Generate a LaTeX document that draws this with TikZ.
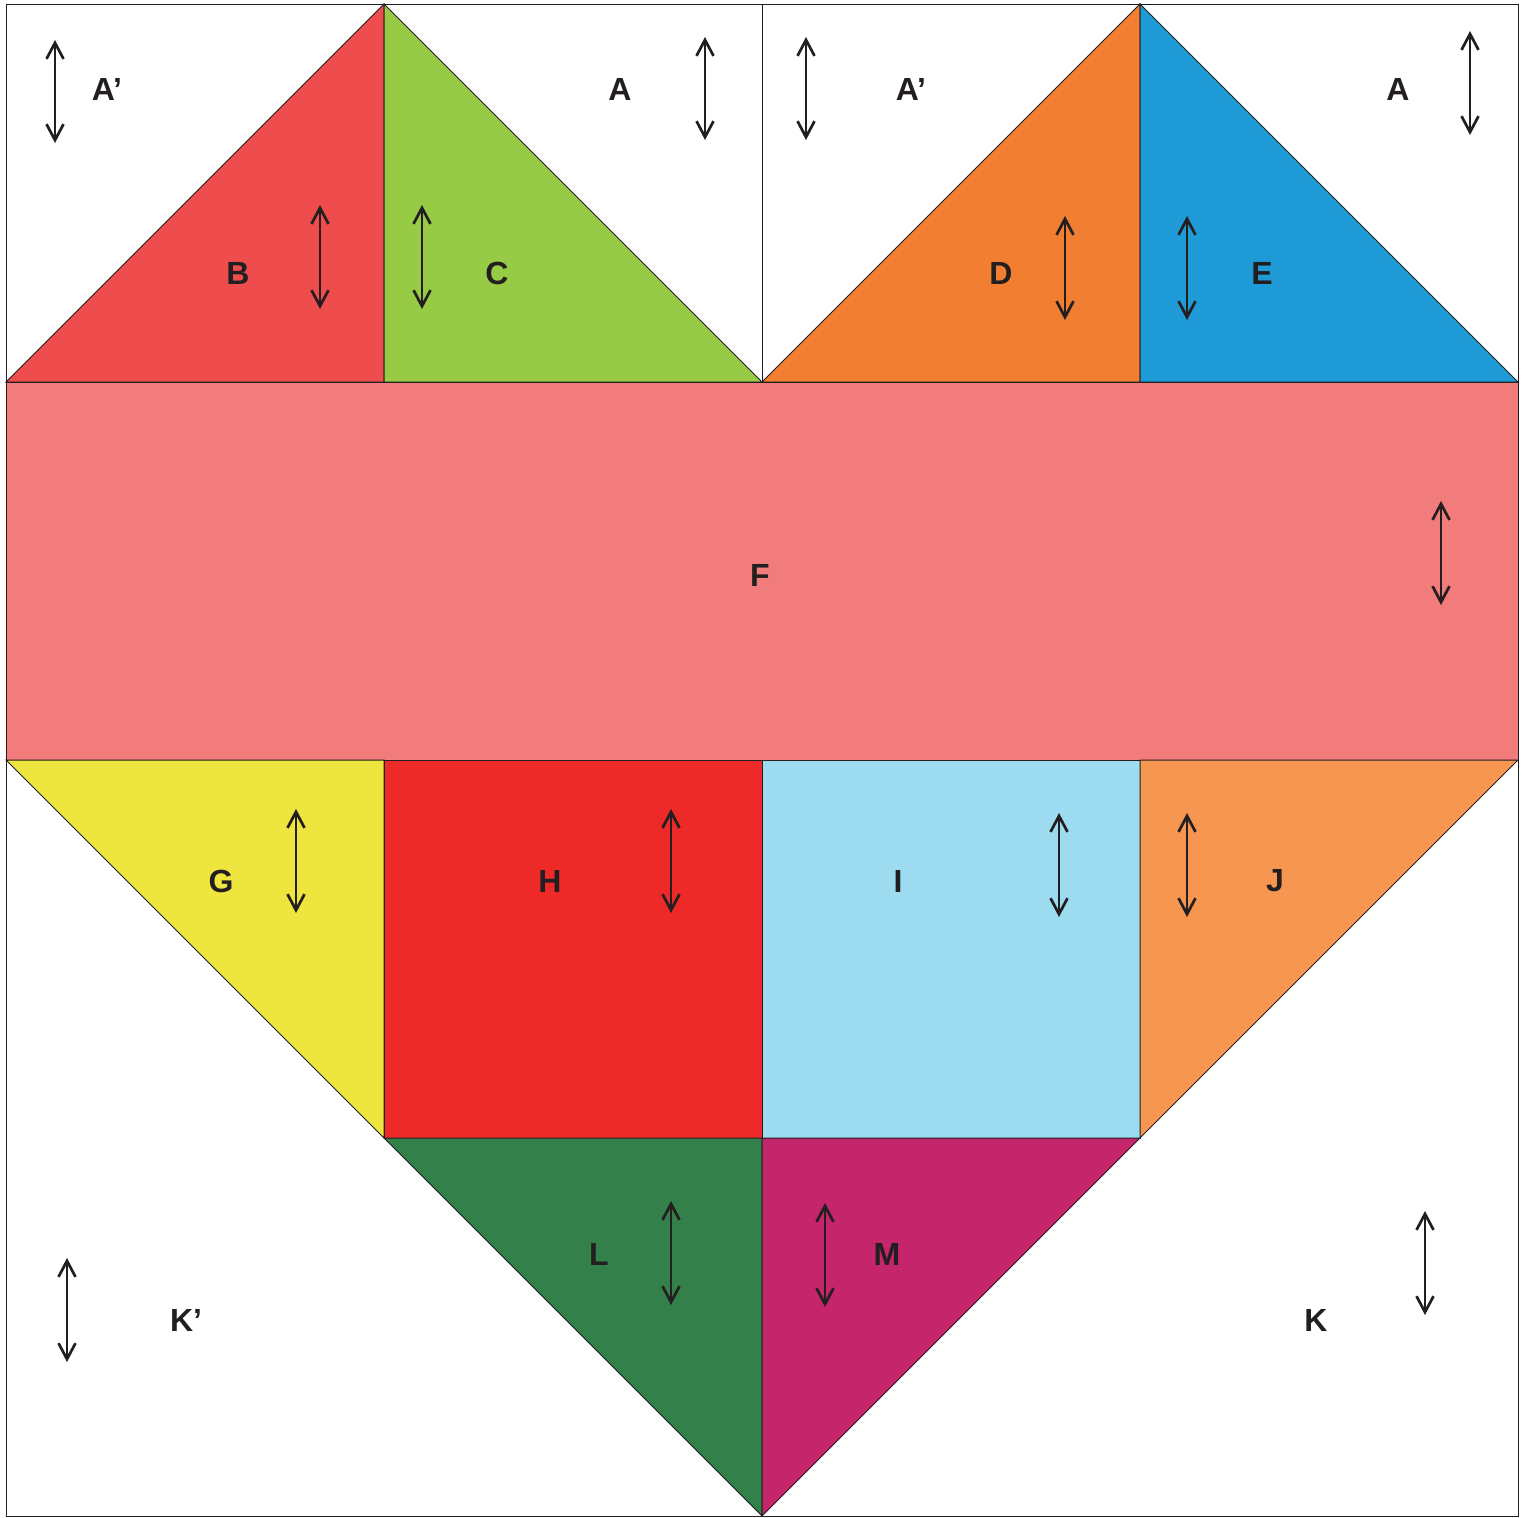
\documentclass[tikz,border=0pt]{standalone}
\usepackage{fontspec}
\setmainfont{Liberation Sans}
\usetikzlibrary{arrows.meta}
\definecolor{ink}{HTML}{231F20}
\definecolor{cB}{HTML}{EF4C4E}
\definecolor{cC}{HTML}{97CA45}
\definecolor{cD}{HTML}{F27E31}
\definecolor{cE}{HTML}{1E9AD6}
\definecolor{cF}{HTML}{F27B7C}
\definecolor{cG}{HTML}{EEE53F}
\definecolor{cH}{HTML}{EE2A28}
\definecolor{cI}{HTML}{9DDBF0}
\definecolor{cJ}{HTML}{F69651}
\definecolor{cL}{HTML}{34804A}
\definecolor{cM}{HTML}{C4256B}
\tikzset{
  piece/.style={draw=ink, line width=0.5pt},
  lbl/.style={text=ink, font=\fontsize{16}{19}\selectfont\bfseries, inner sep=0pt},
  grain/.style={draw=ink, line width=1.35pt, {Straight Barb[length=8pt,width=8.5pt,line width=1.35pt]}-{Straight Barb[length=8pt,width=8.5pt,line width=1.35pt]}}
}
\newcommand{\grainarrow}[3]{\draw[grain] (#1,#2) -- (#1,#3);}
\begin{document}
\begin{tikzpicture}[x=0.5pt,y=-0.5pt]
\useasboundingbox (0,0) rectangle (1525,1517);
\fill[white] (0,0) rectangle (1525,1517);
% top triangles
\filldraw[piece, fill=cB] (6,382) -- (384,4) -- (384,382) -- cycle;
\filldraw[piece, fill=cC] (384,4) -- (384,382) -- (762,382) -- cycle;
\filldraw[piece, fill=cD] (762,382) -- (1140,4) -- (1140,382) -- cycle;
\filldraw[piece, fill=cE] (1140,4) -- (1140,382) -- (1518,382) -- cycle;
\draw[piece] (762,4) -- (762,382);
% band
\filldraw[piece, fill=cF] (6,382) rectangle (1518,760);
% middle row
\filldraw[piece, fill=cG] (6,760) -- (384,760) -- (384,1138) -- cycle;
\filldraw[piece, fill=cH] (384,760) rectangle (762,1138);
\filldraw[piece, fill=cI] (762,760) rectangle (1140,1138);
\filldraw[piece, fill=cJ] (1140,760) -- (1518,760) -- (1140,1138) -- cycle;
% bottom
\filldraw[piece, fill=cL] (384,1138) -- (762,1138) -- (762,1516) -- cycle;
\filldraw[piece, fill=cM] (762,1138) -- (1140,1138) -- (762,1516) -- cycle;
% outer frame
\draw[piece] (6,4) rectangle (1518,1516);
% labels
\node[lbl] (a1) at (107,89) {A’};
\node[lbl] (a2) at (620,89) {A};
\node[lbl] (a3) at (911,89) {A’};
\node[lbl] (a4) at (1398,89) {A};
\node[lbl] (b) at (238,273) {B};
\node[lbl] (c) at (497,273) {C};
\node[lbl] (d) at (1001,273) {D};
\node[lbl] (e) at (1262,273) {E};
\node[lbl] (f) at (760,575) {F};
\node[lbl] (g) at (221,881) {G};
\node[lbl] (h) at (550,881) {H};
\node[lbl] (i) at (898,881) {I};
\node[lbl] (j) at (1275,881) {J};
\node[lbl] (l) at (599,1254) {L};
\node[lbl] (m) at (887,1254) {M};
\node[lbl] (k1) at (186,1320) {K’};
\node[lbl] (k2) at (1316,1320) {K};
% grain arrows
\grainarrow{55}{40}{143}
\grainarrow{705}{37}{140}
\grainarrow{806}{37}{140}
\grainarrow{1470}{31}{135}
\grainarrow{320}{205}{309}
\grainarrow{422}{205}{309}
\grainarrow{1065}{216}{320}
\grainarrow{1187}{216}{320}
\grainarrow{1441}{501}{605}
\grainarrow{296}{809}{913}
\grainarrow{671}{809}{913}
\grainarrow{1059}{813}{917}
\grainarrow{1187}{813}{917}
\grainarrow{671}{1201}{1305}
\grainarrow{825}{1203}{1307}
\grainarrow{67}{1258}{1362}
\grainarrow{1425}{1211}{1315}
\end{tikzpicture}
\end{document}
